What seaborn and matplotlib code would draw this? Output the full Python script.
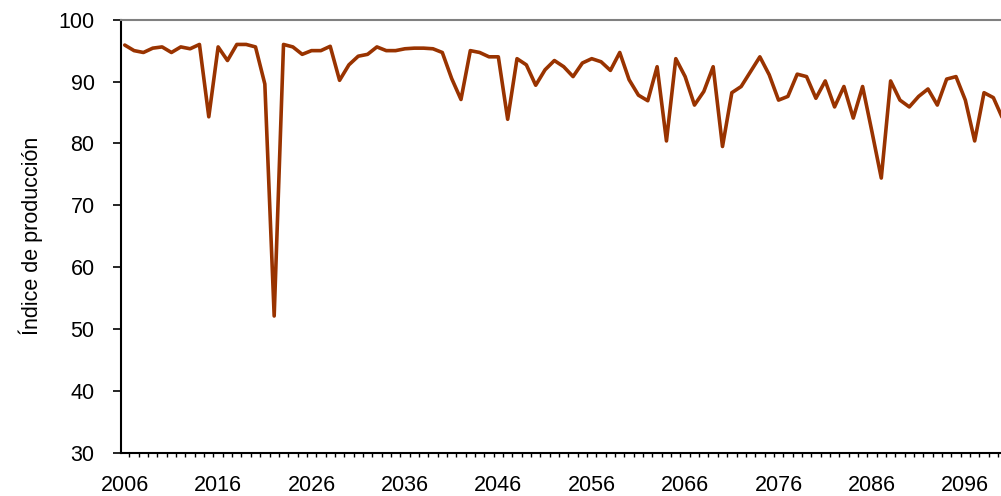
import matplotlib
matplotlib.use("Agg")
import matplotlib.pyplot as plt
import numpy as np
import pandas as pd
import seaborn as sns
from matplotlib.ticker import FixedLocator

years = list(range(2006, 2101))
indice = [
    95.9, 95.0, 94.7, 95.4, 95.6, 94.7, 95.6, 95.3, 96.0, 84.3,
    95.6, 93.4, 96.0, 96.0, 95.6, 89.6, 52.1, 96.0, 95.6, 94.4,
    95.0, 95.0, 95.7, 90.2, 92.7, 94.1, 94.4, 95.6, 95.0, 95.0,
    95.3, 95.4, 95.4, 95.3, 94.7, 90.5, 87.1, 95.0, 94.7, 94.0,
    94.0, 83.9, 93.7, 92.7, 89.4, 91.9, 93.4, 92.4, 90.8, 93.0,
    93.7, 93.2, 91.8, 94.7, 90.3, 87.8, 86.9, 92.4, 80.4, 93.7,
    90.8, 86.2, 88.4, 92.4, 79.5, 88.2, 89.2, 91.6, 94.0, 91.1,
    87.0, 87.6, 91.2, 90.8, 87.3, 90.1, 85.9, 89.2, 84.1, 89.2,
    81.9, 74.4, 90.1, 87.0, 85.9, 87.6, 88.8, 86.2, 90.4, 90.8,
    87.0, 80.4, 88.2, 87.4, 84.0,
]
ylabel = "Índice de producción"
tick_years = list(range(2006, 2100, 10))

df = pd.DataFrame({"anio": years, "indice": indice})

sns.set_style("white")
plt.rcParams["font.family"] = ["Liberation Sans", "DejaVu Sans"]
plt.rcParams["text.color"] = "black"
plt.rcParams["axes.labelcolor"] = "black"
plt.rcParams["xtick.color"] = "black"
plt.rcParams["ytick.color"] = "black"

fig = plt.figure(figsize=(10.01, 4.96), dpi=100)
ax = fig.add_axes([121 / 1001, 43.3 / 496, 1 - 121 / 1001, 433 / 496])

sns.lineplot(data=df, x="anio", y="indice", color="#993300", linewidth=2.6, ax=ax)

ax.set_xlim(2005.6, 2005.6 + 880 / 9.34)
ax.set_ylim(30, 100)
ax.set_yticks(range(30, 101, 10))
ax.set_xticks(tick_years)
ax.set_xticklabels([str(y) for y in tick_years])
ax.xaxis.set_minor_locator(FixedLocator(np.arange(2005.5, 2101, 1)))

ax.tick_params(axis="x", which="major", length=0, pad=16, labelsize=15.5, labelcolor="black")
ax.tick_params(axis="x", which="minor", length=3, width=1, direction="out",
               bottom=True, color="black")
ax.tick_params(axis="y", which="major", length=6, width=1.2, direction="out",
               left=True, pad=13, labelsize=15.5, color="black", labelcolor="black")

ax.set_xlabel("")
ax.set_ylabel(ylabel, fontsize=15.5, labelpad=11, color="black")

for side in ["left", "bottom"]:
    ax.spines[side].set_color("black")
    ax.spines[side].set_linewidth(1.5)
ax.spines["top"].set_color("#808080")
ax.spines["top"].set_linewidth(1.5)
ax.spines["right"].set_visible(False)

fig.savefig("out.png", dpi=100)
